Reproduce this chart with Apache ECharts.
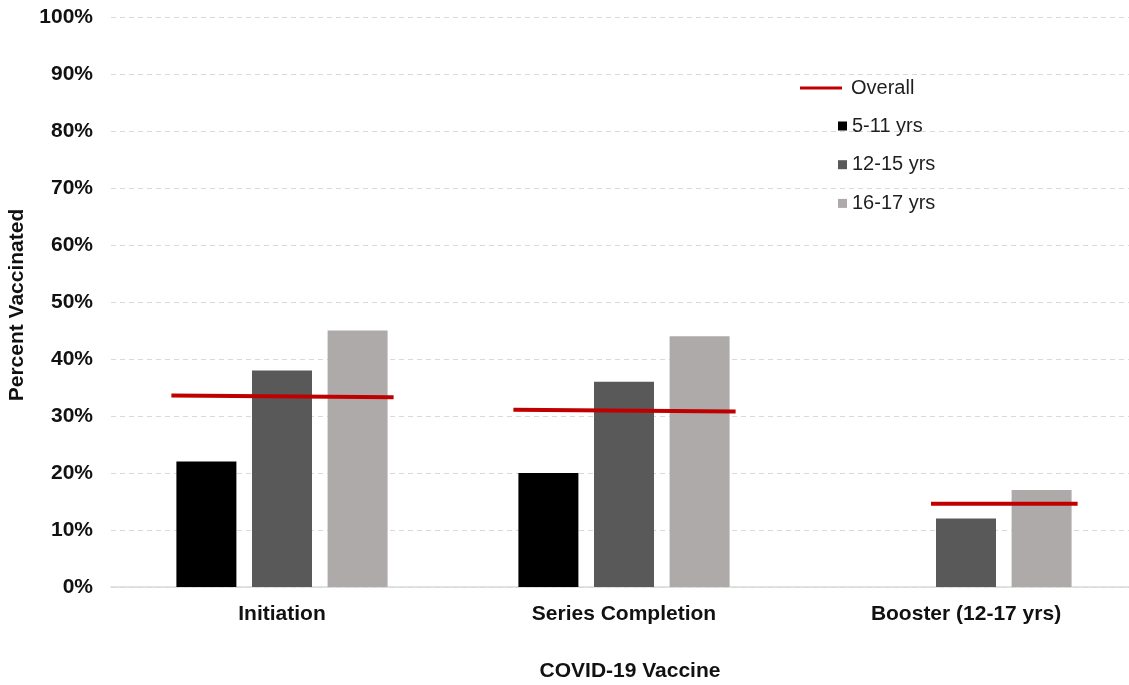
<!DOCTYPE html>
<html>
<head>
<meta charset="utf-8">
<script src="https://cdn.jsdelivr.net/npm/echarts@6/dist/echarts.min.js"></script>
<style>
  html, body { margin: 0; padding: 0; background: #ffffff; }
  #chart { width: 1129px; height: 685px; }
</style>
</head>
<body>
<div id="chart"></div>
<script>
// Vaccine stages on the x axis
const categories = ['Initiation', 'Series Completion', 'Booster (12-17 yrs)'];

// Percent vaccinated by age group (no booster value for 5-11)
const ages5to11 = [22, 20, null];
const ages12to15 = [38, 36, 12];
const ages16to17 = [45, 44, 17];

// Overall percent across ages, as the left and right ends of each group's line
const overallStart = [33.6, 31.1, 14.6];
const overallEnd = [33.3, 30.8, 14.6];

const FONT = '"Liberation Sans", Arial, sans-serif';
const BAR_W = 60;
const BAR_GAP = 0.26;
const ageSeries = [ages5to11, ages12to15, ages16to17];

const chart = echarts.init(document.getElementById('chart'), null, { renderer: 'canvas' });

// Short horizontal line spanning the bars that exist in one group
function renderOverall(params, api) {
  const i = api.value(0);
  const present = ageSeries
    .map((s, k) => (s[i] != null ? k : -1))
    .filter(k => k >= 0);
  const left = api.coord([i, api.value(1)]);
  const right = api.coord([i, api.value(2)]);
  const step = BAR_W * (1 + BAR_GAP);
  const x0 = left[0] + (present[0] - 1) * step - BAR_W / 2 - 5;
  const x1 = left[0] + (present[present.length - 1] - 1) * step + BAR_W / 2 + 6;
  return {
    type: 'line',
    shape: { x1: x0, y1: left[1], x2: x1, y2: right[1] },
    style: { stroke: '#c00000', lineWidth: 4 }
  };
}

const option = {
  backgroundColor: '#ffffff',
  animation: false,
  textStyle: { fontFamily: FONT },
  grid: { left: 111, top: 17, width: 1026, height: 570, containLabel: false, outerBoundsMode: 'none' },
  legend: [
    {
      data: [{ name: 'Overall', icon: 'rect' }],
      left: 800, top: 78, padding: 0,
      itemWidth: 42, itemHeight: 3,
      textStyle: { fontFamily: FONT, fontSize: 20, color: '#1f1f1f', padding: [0, 0, 0, 4] }
    },
    {
      data: [
        { name: '5-11 yrs', icon: 'rect' },
        { name: '12-15 yrs', icon: 'rect' },
        { name: '16-17 yrs', icon: 'rect' }
      ],
      orient: 'vertical',
      left: 838, top: 116, padding: 0,
      itemWidth: 9, itemHeight: 9, itemGap: 18.7,
      textStyle: { fontFamily: FONT, fontSize: 20, color: '#1f1f1f' }
    }
  ],
  xAxis: {
    type: 'category',
    data: categories,
    axisLine: { show: true, lineStyle: { color: '#d9d9d9', width: 1.5 } },
    axisTick: { show: false },
    axisLabel: { margin: 17, fontFamily: FONT, fontSize: 21, fontWeight: 'bold', color: '#111111' },
    name: 'COVID-19 Vaccine',
    nameLocation: 'middle',
    nameGap: 74,
    nameTextStyle: { fontFamily: FONT, fontSize: 21, fontWeight: 'bold', color: '#111111', padding: [0, 0, 0, 12] }
  },
  yAxis: {
    type: 'value',
    min: 0, max: 100, interval: 10,
    axisLine: { show: false },
    axisTick: { show: false },
    axisLabel: { margin: 18, formatter: '{value}%', fontFamily: FONT, fontSize: 21, fontWeight: 'bold', color: '#111111' },
    splitLine: { show: true, lineStyle: { color: '#d9d9d9', width: 1, type: [5, 4] } },
    name: 'Percent Vaccinated',
    nameLocation: 'middle',
    nameRotate: 90,
    nameGap: 83,
    nameTextStyle: { fontFamily: FONT, fontSize: 21, fontWeight: 'bold', color: '#111111', padding: [0, 6, 0, 0] }
  },
  series: [
    {
      name: '5-11 yrs', type: 'bar', data: ages5to11,
      barWidth: BAR_W, barGap: (BAR_GAP * 100) + '%',
      itemStyle: { color: '#000000' }
    },
    {
      name: '12-15 yrs', type: 'bar', data: ages12to15,
      barWidth: BAR_W, barGap: (BAR_GAP * 100) + '%',
      itemStyle: { color: '#595959' }
    },
    {
      name: '16-17 yrs', type: 'bar', data: ages16to17,
      barWidth: BAR_W, barGap: (BAR_GAP * 100) + '%',
      itemStyle: { color: '#aeaaaa' }
    },
    {
      name: 'Overall', type: 'custom',
      renderItem: renderOverall,
      itemStyle: { color: '#c00000' },
      encode: { x: 0, y: [1, 2] },
      data: categories.map((c, i) => [i, overallStart[i], overallEnd[i]]),
      z: 5
    }
  ]
};

chart.setOption(option);
</script>
</body>
</html>
